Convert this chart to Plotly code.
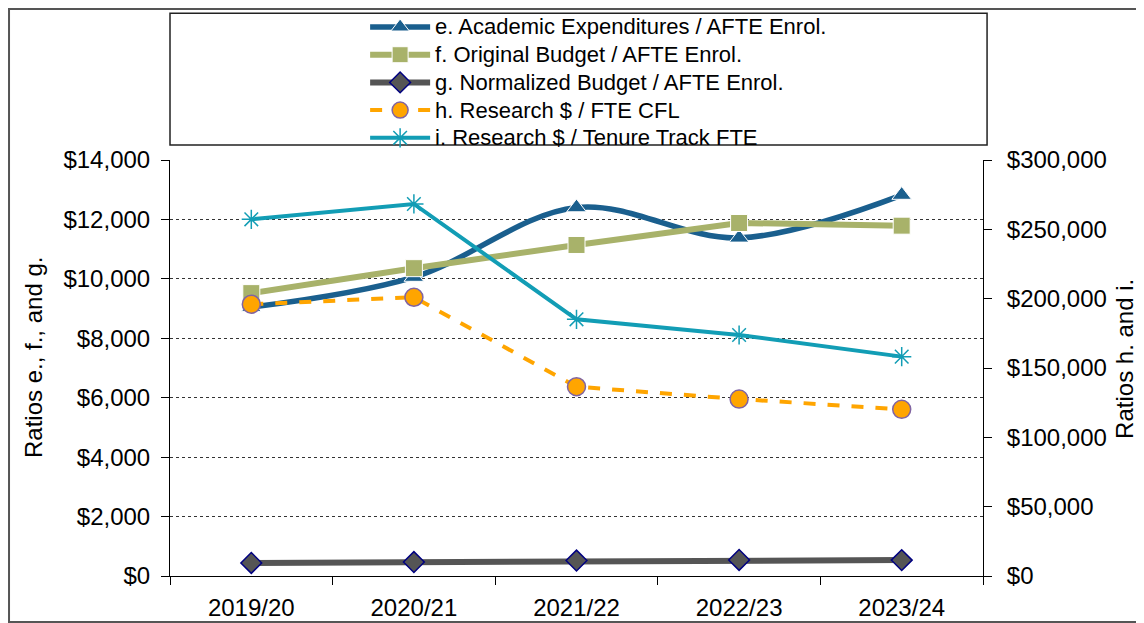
import plotly.graph_objects as go

years = ["2019/20", "2020/21", "2021/22", "2022/23", "2023/24"]

# left axis series
academic_exp = [9050, 10060, 12400, 11380, 12820]
original_budget = [9520, 10360, 11140, 11880, 11790]
normalized_budget = [440, 470, 520, 540, 535]

# right axis series
research_cfl = [196000, 201000, 136500, 127600, 120200]
research_tt = [257200, 268300, 185100, 173800, 158200]

FONT = "Liberation Sans, Arial, sans-serif"


def legend_name(text):
    # slightly larger text than the legend row height would allow
    return f"<span style='font-size:22px'>{text}</span>"


fig = go.Figure()

fig.add_trace(go.Scatter(
    x=years, y=academic_exp, name=legend_name("e. Academic Expenditures / AFTE Enrol."),
    mode="lines+markers", line=dict(color="#1A5F8E", width=5.5, shape="spline"),
    marker=dict(symbol="triangle-up", size=17, color="#1A5F8E", line=dict(color="white", width=1)),
))
fig.add_trace(go.Scatter(
    x=years, y=original_budget, name=legend_name("f. Original Budget / AFTE Enrol."),
    mode="lines+markers", line=dict(color="#A8B26A", width=6),
    marker=dict(symbol="square", size=17, color="#A8B26A", line=dict(color="white", width=1)),
))
fig.add_trace(go.Scatter(
    x=years, y=normalized_budget, name=legend_name("g. Normalized Budget / AFTE Enrol."),
    mode="lines+markers", line=dict(color="#555555", width=6),
    marker=dict(symbol="diamond", size=16, color="#555555", line=dict(color="#000080", width=1.5)),
))
fig.add_trace(go.Scatter(
    x=years, y=research_cfl, name=legend_name("h. Research $ / FTE CFL"), yaxis="y2",
    mode="lines+markers", line=dict(color="#FFA500", width=4, dash="dash"),
    marker=dict(symbol="circle", size=18, color="#FFA500", line=dict(color="#8064A2", width=1.5)),
))
fig.add_trace(go.Scatter(
    x=years, y=research_tt, name=legend_name("i. Research $ / Tenure Track FTE"), yaxis="y2",
    mode="lines+markers", line=dict(color="#129DB5", width=4),
    marker=dict(symbol="asterisk-open", size=16, color="#129DB5", line=dict(color="#129DB5", width=1.5)),
))

fig.update_layout(
    width=1144, height=623,
    margin=dict(l=162, r=169, t=152, b=55, autoexpand=False),
    paper_bgcolor="white", plot_bgcolor="white",
    font=dict(family=FONT, size=24, color="black"),
    showlegend=True,
    legend=dict(
        x=0.240, y=1.365, xanchor="left", yanchor="top",
        font=dict(family=FONT, size=19, color="black"),
        bgcolor="rgba(0,0,0,0)", borderwidth=0, itemwidth=60,
        tracegroupgap=0,
    ),
    xaxis=dict(
        type="category", range=[-0.5, 4.5], tickson="boundaries", automargin=False,
        ticks="outside", ticklen=8, tickcolor="black",
        showline=True, linecolor="black", linewidth=1,
        showgrid=False, tickfont=dict(size=24), ticklabelstandoff=10,
    ),
    yaxis=dict(
        range=[0, 14000], dtick=2000, tickprefix="$", tickformat=",", automargin=False,
        ticks="outside", ticklen=8, tickcolor="black",
        showline=True, linecolor="black", linewidth=1,
        showgrid=True, gridcolor="#333333", gridwidth=1, griddash="dot",
        zeroline=False, tickfont=dict(size=24), ticklabelstandoff=6,
    ),
    yaxis2=dict(
        overlaying="y", side="right", automargin=False,
        range=[0, 300000], dtick=50000, tickprefix="$", tickformat=",",
        ticks="outside", ticklen=8, tickcolor="black",
        showline=True, linecolor="black", linewidth=1,
        showgrid=False, zeroline=False, tickfont=dict(size=24), ticklabelstandoff=10,
    ),
    shapes=[
        # legend box
        dict(type="rect", xref="paper", yref="paper", x0=0.0, x1=1.005, y0=1.036, y1=1.353,
             line=dict(color="#222222", width=1.5), fillcolor="rgba(0,0,0,0)", layer="below"),
        # outer frame
        dict(type="rect", xref="paper", yref="paper", x0=-0.198, x1=1.203, y0=-0.1106, y1=1.363,
             line=dict(color="#555555", width=2), fillcolor="rgba(0,0,0,0)", layer="below"),
    ],
    annotations=[
        dict(text="Ratios e., f., and g.", xref="paper", yref="paper", x=-0.1685, y=0.524,
             xanchor="center", yanchor="middle",
             textangle=-90, showarrow=False, font=dict(size=24)),
        dict(text="Ratios h. and i.", xref="paper", yref="paper", x=1.1747, y=0.522,
             xanchor="center", yanchor="middle",
             textangle=-90, showarrow=False, font=dict(size=24)),
    ],
)

fig.write_html("out.html")
